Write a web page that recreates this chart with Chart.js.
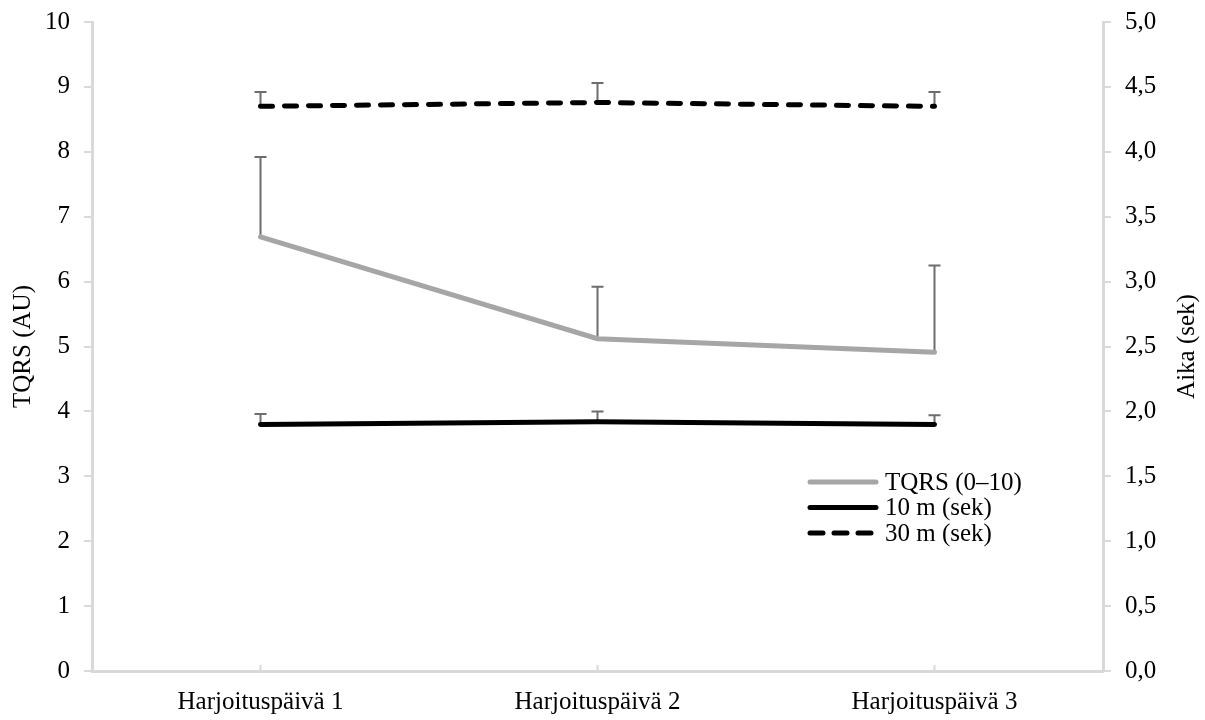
<!DOCTYPE html>
<html>
<head>
<meta charset="utf-8">
<script src="https://cdn.jsdelivr.net/npm/chart.js@4.4.0/dist/chart.umd.min.js"></script>
<style>
  html, body { margin: 0; padding: 0; background: #fff; }
  #wrap { width: 1205px; height: 720px; }
</style>
</head>
<body>
<div id="wrap"><canvas id="chart" width="1205" height="720"></canvas></div>
<script>
// data
var categories = ['Harjoituspäivä 1', 'Harjoituspäivä 2', 'Harjoituspäivä 3'];
var tqrs = [6.69, 5.12, 4.91];
var tqrsErr = [7.92, 5.92, 6.25];
var sprint10 = [1.90, 1.92, 1.90];
var sprint10Err = [1.98, 2.00, 1.97];
var sprint30 = [4.35, 4.38, 4.35];
var sprint30Err = [4.46, 4.53, 4.46];
var errTops = [tqrsErr, sprint10Err, sprint30Err];

var FONT = '"Liberation Serif", "Times New Roman", serif';
var axisColor = '#d9d9d9';

// error bars (upper only), drawn under the lines
var errorBars = {
  id: 'errorBars',
  beforeDatasetsDraw: function(chart) {
    var ctx = chart.ctx;
    ctx.save();
    ctx.strokeStyle = '#6d6d6d';
    ctx.lineWidth = 2;
    chart.data.datasets.forEach(function(ds, di) {
      var meta = chart.getDatasetMeta(di);
      var scale = chart.scales[ds.yAxisID];
      meta.data.forEach(function(pt, i) {
        var top = scale.getPixelForValue(errTops[di][i]);
        ctx.beginPath();
        ctx.moveTo(pt.x, pt.y);
        ctx.lineTo(pt.x, top);
        ctx.moveTo(pt.x - 6, top);
        ctx.lineTo(pt.x + 6, top);
        ctx.stroke();
      });
    });
    ctx.restore();
  }
};

// inner tick marks on the category axis, legend and axis titles
var extras = {
  id: 'extras',
  afterDraw: function(chart) {
    var ctx = chart.ctx;
    var area = chart.chartArea;
    var x = chart.scales.x;
    ctx.save();
    ctx.strokeStyle = axisColor;
    ctx.lineWidth = 2;
    categories.forEach(function(c, i) {
      var px = x.getPixelForValue(i);
      ctx.beginPath();
      ctx.moveTo(px, area.bottom);
      ctx.lineTo(px, area.bottom - 6);
      ctx.stroke();
    });

    // legend
    ctx.font = '25px ' + FONT;
    ctx.textBaseline = 'middle';
    ctx.fillStyle = '#000';
    var ly = 482;
    chart.data.datasets.forEach(function(ds) {
      ctx.beginPath();
      ctx.strokeStyle = ds.borderColor;
      ctx.lineWidth = ds.borderWidth;
      ctx.lineCap = 'round';
      ctx.setLineDash(ds.borderDash ? [13, 11] : []);
      ctx.moveTo(810, ly);
      ctx.lineTo(876, ly);
      ctx.stroke();
      ctx.setLineDash([]);
      ctx.fillText(ds.label, 885, ly + 1);
      ly += 25.5;
    });

    // axis titles, both reading bottom to top
    ctx.textAlign = 'center';
    var cy = (area.top + area.bottom) / 2;
    ctx.save();
    ctx.translate(23, cy);
    ctx.rotate(-Math.PI / 2);
    ctx.fillText('TQRS (AU)', 0, 0);
    ctx.restore();
    ctx.save();
    ctx.translate(1187, cy);
    ctx.rotate(-Math.PI / 2);
    ctx.fillText('Aika (sek)', 0, 0);
    ctx.restore();
    ctx.restore();
  }
};

function fixVertical(width) {
  return function(s) {
    s.width = width;
    s.paddingTop = 0;
    s.paddingBottom = 0;
  };
}

new Chart(document.getElementById('chart'), {
  type: 'line',
  data: {
    labels: categories,
    datasets: [
      { label: 'TQRS (0–10)', data: tqrs, yAxisID: 'y', borderColor: '#a6a6a6', borderWidth: 5, borderCapStyle: 'round', pointRadius: 0, tension: 0 },
      { label: '10 m (sek)', data: sprint10, yAxisID: 'y1', borderColor: '#000000', borderWidth: 5, borderCapStyle: 'round', pointRadius: 0, tension: 0 },
      { label: '30 m (sek)', data: sprint30, yAxisID: 'y1', borderColor: '#000000', borderWidth: 5, borderCapStyle: 'round', borderDash: [12, 12], pointRadius: 0, tension: 0 }
    ]
  },
  options: {
    responsive: false,
    animation: false,
    layout: { padding: { top: 22, bottom: 0, left: 0, right: 0 } },
    plugins: { legend: { display: false }, tooltip: { enabled: false } },
    scales: {
      x: {
        offset: true,
        grid: { display: false },
        border: { color: axisColor, width: 3 },
        ticks: { color: '#000', font: { family: FONT, size: 25 }, padding: 8 },
        afterFit: function(s) { s.height = 49; }
      },
      y: {
        position: 'left',
        min: 0, max: 10,
        ticks: { stepSize: 1, color: '#000', font: { family: FONT, size: 25 }, padding: 14 },
        grid: { drawOnChartArea: false, color: axisColor, lineWidth: 2, tickLength: 8 },
        border: { color: axisColor, width: 3 },
        afterFit: fixVertical(92)
      },
      y1: {
        position: 'right',
        min: 0, max: 5,
        ticks: {
          stepSize: 0.5, color: '#000', font: { family: FONT, size: 25 }, padding: 14,
          callback: function(v) { return v.toFixed(1).replace('.', ','); }
        },
        grid: { drawOnChartArea: false, color: axisColor, lineWidth: 2, tickLength: 8 },
        border: { color: axisColor, width: 3 },
        afterFit: fixVertical(102)
      }
    }
  },
  plugins: [errorBars, extras]
});
</script>
</body>
</html>
